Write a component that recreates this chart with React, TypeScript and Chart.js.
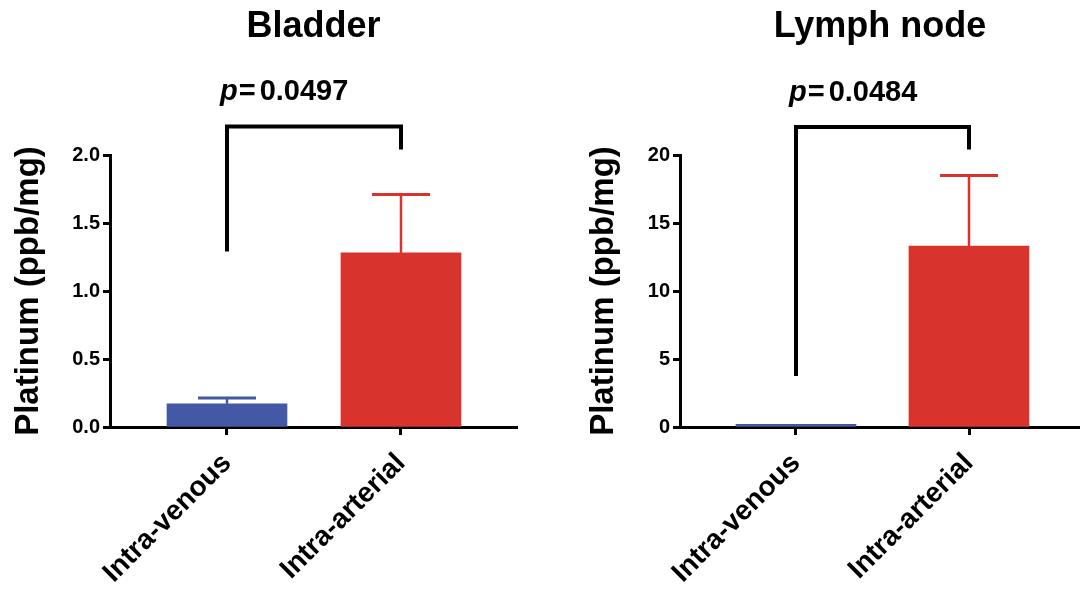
import React, { useEffect, useRef } from "react";
import { Chart, registerables } from "chart.js";

Chart.register(...registerables);

const categories = ["Intra-venous", "Intra-arterial"];
const panelTitles = ["Bladder", "Lymph node"];
const pValues = ["0.0497", "0.0484"];
const bladderMeans = [0.17, 1.28];
const bladderErrors = [0.043, 0.43];
const lymphMeans = [0.2, 13.3];
const lymphErrors = [0, 5.2];
const bladderTicks = [0, 0.5, 1.0, 1.5, 2.0];
const lymphTicks = [0, 5, 10, 15, 20];
// significance bracket: [left leg end, top, right leg end]
const bladderBracket = [1.29, 2.21, 2.04];
const lymphBracket = [3.75, 22.06, 20.4];
const barColors = ["#4459A6", "#D9332E"];
const yTitle = "Platinum (ppb/mg)";

const FONT = '"Liberation Sans", Arial, Helvetica, sans-serif';

type Panel = {
  title: string;
  p: string;
  means: number[];
  errors: number[];
  ticks: number[];
  bracket: number[];
  decimals: number;
  left: number;
  width: number;
  yWidth: number;
  xMin: number;
  xMax: number;
  padRight: number;
};

const panels: Panel[] = [
  {
    title: panelTitles[0],
    p: pValues[0],
    means: bladderMeans,
    errors: bladderErrors,
    ticks: bladderTicks,
    bracket: bladderBracket,
    decimals: 1,
    left: 0,
    width: 540,
    yWidth: 110,
    xMin: -0.6724,
    xMax: 1.6667,
    padRight: 23,
  },
  {
    title: panelTitles[1],
    p: pValues[1],
    means: lymphMeans,
    errors: lymphErrors,
    ticks: lymphTicks,
    bracket: lymphBracket,
    decimals: 0,
    left: 575,
    width: 505,
    yWidth: 105,
    xMin: -0.6705,
    xMax: 1.6416,
    padRight: 0,
  },
];

function PanelChart({ panel }: { panel: Panel }) {
  const ref = useRef<HTMLCanvasElement | null>(null);

  useEffect(() => {
    if (!ref.current) return;
    const overlay = {
      id: "overlay",
      afterDatasetsDraw(chart: any) {
        const ctx = chart.ctx;
        const meta = chart.getDatasetMeta(0);
        const y = chart.scales.y;
        const area = chart.chartArea;
        ctx.save();
        // error bars
        meta.data.forEach((bar: any, i: number) => {
          const err = panel.errors[i];
          if (!err) return;
          const top = y.getPixelForValue(panel.means[i]);
          const cap = y.getPixelForValue(panel.means[i] + err);
          ctx.strokeStyle = barColors[i];
          ctx.lineWidth = 2.5;
          ctx.beginPath();
          ctx.moveTo(bar.x, top);
          ctx.lineTo(bar.x, cap);
          ctx.stroke();
          ctx.lineWidth = 3;
          ctx.beginPath();
          ctx.moveTo(bar.x - 29, cap);
          ctx.lineTo(bar.x + 29, cap);
          ctx.stroke();
        });
        // bracket
        const x0 = meta.data[0].x;
        const x1 = meta.data[1].x;
        const yl = y.getPixelForValue(panel.bracket[0]);
        const yt = y.getPixelForValue(panel.bracket[1]);
        const yr = y.getPixelForValue(panel.bracket[2]);
        ctx.strokeStyle = "#000";
        ctx.lineWidth = 4;
        ctx.lineJoin = "miter";
        ctx.lineCap = "butt";
        ctx.beginPath();
        ctx.moveTo(x0, yl);
        ctx.lineTo(x0, yt);
        ctx.lineTo(x1, yt);
        ctx.lineTo(x1, yr);
        ctx.stroke();
        // p-value text
        ctx.fillStyle = "#000";
        ctx.textBaseline = "alphabetic";
        ctx.textAlign = "left";
        const base = yt - 26;
        let tx = x0 - 7;
        ctx.font = `italic bold 29px ${FONT}`;
        ctx.fillText("p", tx, base);
        tx += ctx.measureText("p").width + 1;
        ctx.font = `bold 29px ${FONT}`;
        ctx.fillText("=", tx, base);
        tx += ctx.measureText("=").width + 4;
        ctx.fillText(panel.p, tx, base);
        // title
        ctx.font = `bold 36px ${FONT}`;
        ctx.textAlign = "center";
        ctx.fillText(panel.title, (area.left + area.right) / 2, 37);
        ctx.restore();
      },
    };

    const chart = new Chart(ref.current, {
      type: "bar",
      data: {
        datasets: [
          {
            data: panel.means.map((m, i) => ({ x: i, y: m })),
            backgroundColor: barColors,
            borderWidth: 0,
            barThickness: 120,
          } as any,
        ],
      },
      options: {
        animation: false,
        responsive: false,
        maintainAspectRatio: false,
        layout: { padding: { top: 155, right: panel.padRight, left: 0, bottom: 0 } },
        plugins: {
          legend: { display: false },
          tooltip: { enabled: false },
          title: { display: false },
        },
        scales: {
          x: {
            type: "linear",
            min: panel.xMin,
            max: panel.xMax,
            offset: false,
            afterFit: (s: any) => {
              s.height = 162;
            },
            afterBuildTicks: (s: any) => {
              s.ticks = categories.map((_, i) => ({ value: i }));
            },
            grid: {
              offset: false,
              drawOnChartArea: false,
              drawTicks: true,
              tickLength: 8,
              tickWidth: 3,
              tickColor: "#000",
            },
            border: { display: true, color: "#000", width: 3 },
            ticks: {
              autoSkip: false,
              minRotation: 45,
              maxRotation: 45,
              color: "#000",
              padding: 12,
              font: { family: FONT, size: 28, weight: "bold" },
              callback: (v: any) => categories[v] ?? "",
            },
          },
          y: {
            min: 0,
            max: panel.ticks[panel.ticks.length - 1],
            afterFit: (s: any) => {
              s.width = panel.yWidth;
            },
            afterBuildTicks: (s: any) => {
              s.ticks = panel.ticks.map((v) => ({ value: v }));
            },
            grid: {
              drawOnChartArea: false,
              drawTicks: true,
              tickLength: 7,
              tickWidth: 3,
              tickColor: "#000",
            },
            border: { display: true, color: "#000", width: 3 },
            ticks: {
              color: "#000",
              padding: 3,
              font: { family: FONT, size: 20, weight: "bold" },
              callback: (v: any) => Number(v).toFixed(panel.decimals),
            },
            title: {
              display: true,
              text: yTitle,
              color: "#000",
              font: { family: FONT, size: 33, weight: "bold" },
              padding: { top: 9, bottom: 0 },
            },
          },
        },
      } as any,
      plugins: [overlay],
    });
    return () => chart.destroy();
  }, [panel]);

  return (
    <canvas
      ref={ref}
      width={panel.width}
      height={589}
      style={{ position: "absolute", left: panel.left, top: 0, width: panel.width, height: 589 }}
    />
  );
}

export default function App() {
  return (
    <div
      style={{
        position: "absolute",
        left: 0,
        top: 0,
        width: 1080,
        height: 589,
        background: "#fff",
        overflow: "hidden",
      }}
    >
      {panels.map((p, i) => (
        <PanelChart key={i} panel={p} />
      ))}
    </div>
  );
}
